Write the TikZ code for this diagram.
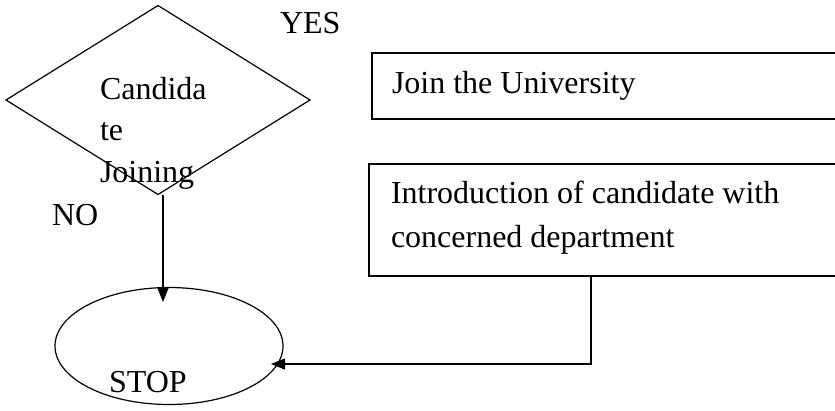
\documentclass[tikz,border=0pt]{standalone}
\usepackage{fontspec}
\setmainfont{Liberation Serif}
\usetikzlibrary{shapes.geometric,arrows.meta}
\begin{document}
\begin{tikzpicture}[x=1pt,y=-1pt,
  every node/.style={inner sep=0pt, outer sep=0pt},
  shp/.style={draw, line width=1.2pt},
  txt/.style={anchor=base west, font=\fontsize{32}{40}\selectfont},
  arr/.style={line width=1.2pt, -{Triangle[length=14pt,width=11pt]}},
  ln/.style={line width=1.2pt}]
\path[use as bounding box] (0,0) rectangle (835,410);
\clip (0,0) rectangle (835,410);
% decision diamond
\node[shp, diamond, minimum width=304pt, minimum height=189pt] (d) at (158,100) {};
\node[txt] (t1) at (100,99) {Candida};
\node[txt] (t2) at (100,140) {te};
\node[txt] (t3) at (100,182) {Joining};
\node[txt] (yes) at (280,33) {YES};
\node[txt] (no) at (52,225) {NO};
% boxes
\node[shp, rectangle, anchor=north west, minimum width=480pt, minimum height=66pt] (join) at (372,53) {};
\node[txt] (jt) at (392,93) {Join the University};
\node[shp, rectangle, anchor=north west, minimum width=480pt, minimum height=112pt] (intro) at (369,164) {};
\node[txt] (it1) at (391,203) {Introduction of candidate with};
\node[txt] (it2) at (391,247) {concerned department};
% stop
\node[shp, ellipse, minimum width=228pt, minimum height=117pt] (stop) at (169,346) {};
\node[txt] (st) at (109,392) {STOP};
% connectors
\coordinate (stopin1) at (163,302);
\coordinate (stopin2) at (271,364);
\coordinate (bend) at (591,364);
\draw[arr] ([xshift=5pt]d.south) -- (stopin1);
\draw[arr] (intro.south west -| bend) -- (bend) -- (stopin2);
\end{tikzpicture}
\end{document}
